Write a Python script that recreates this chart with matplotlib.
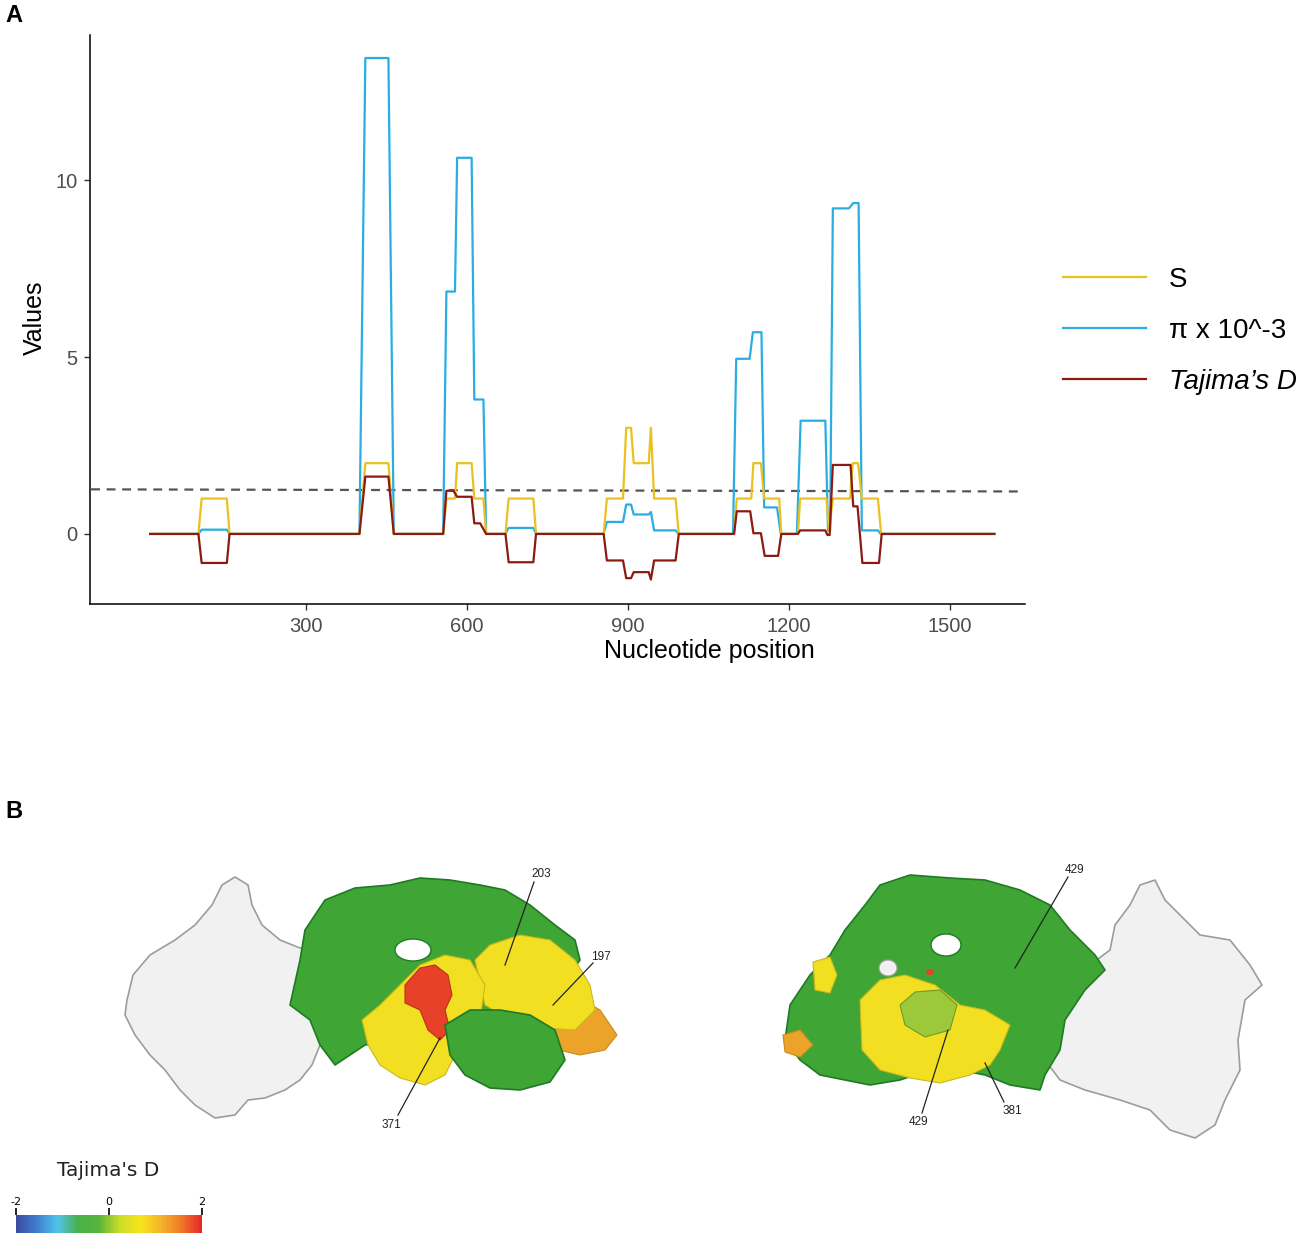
import numpy as np
import matplotlib.pyplot as plt
from matplotlib.patches import Polygon, Ellipse
from matplotlib.colors import LinearSegmentedColormap, Normalize
from matplotlib.colorbar import ColorbarBase

plt.rcParams['font.family'] = ['Liberation Sans', 'DejaVu Sans']

# ---- panel A data: sliding window vertices ----
s_pos = [10, 100, 106, 153, 158, 400, 411, 454, 464, 556, 562, 578, 582, 609, 614, 631, 636,
         672, 678, 724, 729, 855, 861, 891, 897, 906, 911, 939, 943, 949, 989, 995,
         1098, 1103, 1130, 1134, 1148, 1154, 1182, 1186, 1217, 1221, 1270, 1275, 1282,
         1314, 1319, 1329, 1336, 1366, 1372, 1583]
s_val = [0, 0, 1, 1, 0, 0, 2, 2, 0, 0, 1, 1, 2, 2, 1, 1, 0,
         0, 1, 1, 0, 0, 1, 1, 3, 3, 2, 2, 3, 1, 1, 0,
         0, 1, 1, 2, 2, 1, 1, 0, 0, 1, 1, 0.1, 1,
         1, 2, 2, 1, 1, 0, 0]

pi_pos = [10, 100, 106, 153, 158, 400, 411, 454, 464, 556, 562, 578, 582, 609, 614, 631, 636,
          672, 678, 724, 729, 855, 861, 891, 897, 906, 911, 939, 943, 949, 989, 995,
          1096, 1102, 1127, 1133, 1149, 1154, 1178, 1185, 1215, 1222, 1268, 1273, 1277, 1282,
          1312, 1320, 1330, 1336, 1366, 1371, 1583]
pi_val = [0, 0, 0.12, 0.12, 0, 0, 13.45, 13.45, 0, 0, 6.85, 6.85, 10.63, 10.63, 3.8, 3.8, 0,
          0, 0.17, 0.17, 0, 0, 0.34, 0.34, 0.83, 0.83, 0.55, 0.55, 0.62, 0.1, 0.1, 0,
          0, 4.95, 4.95, 5.7, 5.7, 0.75, 0.75, 0, 0, 3.2, 3.2, 0.1, 0.1, 9.2,
          9.2, 9.35, 9.35, 0.1, 0.1, 0, 0]

d_pos = [10, 100, 106, 153, 158, 400, 411, 454, 464, 556, 562, 575, 582, 609, 614, 625, 636,
         672, 678, 724, 729, 855, 861, 891, 897, 906, 911, 939, 943, 949, 989, 995,
         1098, 1103, 1128, 1134, 1148, 1155, 1180, 1186, 1217, 1221, 1268, 1272, 1276, 1282,
         1315, 1320, 1328, 1337, 1368, 1373, 1583]
d_val = [0, 0, -0.82, -0.82, 0, 0, 1.62, 1.62, 0, 0, 1.22, 1.22, 1.05, 1.05, 0.3, 0.3, 0,
         0, -0.8, -0.8, 0, 0, -0.75, -0.75, -1.25, -1.25, -1.08, -1.08, -1.29, -0.75, -0.75, 0,
         0, 0.64, 0.64, 0.02, 0.02, -0.62, -0.62, 0, 0, 0.1, 0.1, -0.03, -0.03, 1.95,
         1.95, 0.78, 0.78, -0.82, -0.82, 0, 0]

thr_pos = [-100, 1630]
thr_val = [1.26, 1.20]

x_ticks = [300, 600, 900, 1200, 1500]
y_ticks = [0, 5, 10]

W, H = 1299, 1235
fig = plt.figure(figsize=(W / 100, H / 100), dpi=100)

ax = fig.add_axes([90 / W, 1 - 604 / H, 935 / W, 569 / H])
ax.plot(s_pos, s_val, color='#EAC11E', lw=1.6, label='S', zorder=3)
ax.plot(pi_pos, pi_val, color='#2AAEE2', lw=1.6, label='π x 10^-3', zorder=2)
ax.plot(d_pos, d_val, color='#8B1A12', lw=1.6, label='Tajima’s D', zorder=4)
ax.plot(thr_pos, thr_val, color='#555555', lw=1.6, ls=(0, (4, 3)), zorder=1)

ax.set_xlim(-102, 1640)
ax.set_ylim(-1.98, 14.1)
ax.set_xticks(x_ticks)
ax.set_yticks(y_ticks)
ax.tick_params(labelsize=14.5, labelcolor='#4d4d4d', length=4, width=1, color='#333333', pad=5)
for side in ['top', 'right']:
    ax.spines[side].set_visible(False)
for side in ['left', 'bottom']:
    ax.spines[side].set_linewidth(1.1)
ax.set_xlabel('Nucleotide position', fontsize=18)
ax.set_ylabel('Values', fontsize=18)
ax.xaxis.set_label_coords((709 - 90) / 935, -(651 - 604) / 569)
ax.yaxis.set_label_coords(-(90 - 35) / 935, (604 - 318) / 569)
ax.xaxis.label.set_va('center')
ax.yaxis.label.set_va('center')

leg = fig.legend(loc='center left', bbox_to_anchor=(1063 / W, 1 - 331 / H), frameon=False,
                 fontsize=20, handlelength=3.0, handletextpad=0.8, labelspacing=0.9,
                 borderpad=0, borderaxespad=0)
leg.get_texts()[2].set_style('italic')

fig.text(5 / W, 1 - 15 / H, 'A', fontsize=17, fontweight='bold', va='center')
fig.text(5 / W, 1 - 812 / H, 'B', fontsize=17, fontweight='bold', va='center')

# ---- panel B: rough sketch of the two surface views ----
bx = fig.add_axes([0, 0, 1, 1])
bx.set_xlim(0, W)
bx.set_ylim(H, 0)
bx.axis('off')

white, white_edge = '#f1f1f1', '#9c9c9c'
green, green_edge = '#3fa535', '#1f7a24'
yellow, orange, red, lime = '#f2df22', '#eba32a', '#e8412a', '#9cc93a'


def blob(pts, fc, ec, lw=1.2):
    bx.add_patch(Polygon(pts, closed=True, fc=fc, ec=ec, lw=lw, joinstyle='round'))


white_left = [(127, 1000), (133, 975), (150, 955), (175, 940), (195, 925), (212, 905), (222, 885),
              (235, 877), (248, 885), (252, 905), (262, 925), (280, 940), (300, 948), (318, 950),
              (330, 962), (322, 985), (318, 1010), (322, 1040), (312, 1065), (300, 1080), (285, 1090),
              (265, 1098), (248, 1100), (235, 1115), (215, 1118), (195, 1105), (180, 1090),
              (165, 1070), (150, 1055), (135, 1035), (125, 1015)]
green_left = [(290, 1005), (300, 960), (305, 930), (325, 900), (355, 888), (390, 885), (420, 878),
              (450, 880), (480, 885), (505, 890), (530, 905), (555, 925), (575, 940), (580, 960),
              (560, 990), (555, 1020), (560, 1060), (545, 1080), (520, 1088), (490, 1085),
              (470, 1075), (455, 1060), (430, 1045), (400, 1040), (365, 1045), (335, 1065),
              (320, 1045), (310, 1020)]
orange_left = [(540, 1000), (575, 995), (600, 1010), (617, 1035), (605, 1050), (580, 1055), (550, 1048)]
yellow_left_r = [(475, 960), (490, 945), (520, 935), (550, 940), (575, 960), (590, 985), (595, 1010),
                 (575, 1030), (545, 1028), (510, 1020), (485, 1005)]
yellow_left_c = [(362, 1020), (380, 1005), (400, 985), (420, 965), (445, 955), (470, 960), (485, 985),
                 (480, 1020), (460, 1045), (445, 1075), (425, 1085), (400, 1078), (380, 1065), (368, 1045)]
red_left = [(405, 985), (420, 968), (435, 965), (448, 975), (452, 995), (445, 1010), (450, 1030),
            (440, 1040), (428, 1030), (420, 1010), (405, 1003)]
green_left_f = [(445, 1025), (470, 1010), (500, 1010), (530, 1015), (555, 1030), (565, 1060),
                (550, 1082), (520, 1090), (490, 1088), (465, 1075), (450, 1055)]

blob(white_left, white, white_edge)
blob(green_left, green, green_edge)
blob(orange_left, orange, '#c98a20', 0.8)
blob(yellow_left_r, yellow, '#c9b81e', 0.8)
blob(yellow_left_c, yellow, '#c9b81e', 0.8)
blob(red_left, red, '#b83020', 0.8)
blob(green_left_f, green, green_edge)
bx.add_patch(Ellipse((413, 950), 36, 22, fc='white', ec=green_edge, lw=1))

white_right = [(1040, 1000), (1060, 975), (1090, 965), (1110, 950), (1115, 925), (1130, 905),
               (1140, 885), (1155, 880), (1165, 900), (1185, 920), (1200, 935), (1230, 940),
               (1250, 965), (1262, 985), (1245, 1000), (1238, 1040), (1240, 1070), (1225, 1100),
               (1215, 1125), (1195, 1138), (1170, 1130), (1150, 1110), (1120, 1100), (1085, 1090),
               (1060, 1080), (1045, 1060), (1035, 1035)]
green_right = [(785, 1040), (790, 1005), (810, 975), (830, 955), (845, 930), (865, 905), (880, 885),
               (910, 875), (950, 878), (985, 880), (1020, 890), (1050, 905), (1070, 930),
               (1095, 955), (1105, 970), (1085, 990), (1065, 1020), (1060, 1050), (1045, 1075),
               (1040, 1090), (1010, 1085), (985, 1075), (960, 1070), (930, 1070), (900, 1080),
               (870, 1085), (845, 1080), (820, 1075), (800, 1060)]
orange_right = [(783, 1035), (800, 1030), (813, 1045), (800, 1057), (785, 1052)]
yellow_right_l = [(813, 962), (830, 957), (837, 975), (830, 993), (815, 990)]
yellow_right_c = [(860, 1000), (880, 980), (905, 975), (935, 985), (960, 1005), (985, 1010),
                  (1010, 1025), (1000, 1050), (990, 1065), (970, 1075), (940, 1083), (910, 1078),
                  (880, 1070), (862, 1050)]
lime_right = [(900, 1005), (915, 992), (940, 990), (957, 1005), (950, 1030), (925, 1037), (905, 1025)]

blob(white_right, white, white_edge)
blob(green_right, green, green_edge)
blob(orange_right, orange, '#c98a20', 0.8)
blob(yellow_right_l, yellow, '#c9b81e', 0.8)
blob(yellow_right_c, yellow, '#c9b81e', 0.8)
blob(lime_right, lime, '#6f9a2a', 0.8)
bx.add_patch(Ellipse((888, 968), 18, 16, fc=white, ec=white_edge, lw=0.8))
bx.add_patch(Ellipse((946, 945), 30, 22, fc='white', ec=green_edge, lw=1))
bx.add_patch(Ellipse((930, 972), 8, 6, fc=red, ec='none'))

# residue labels
residues = ['203', '197', '371', '429', '429', '381']
label_xy = [(541, 874), (601, 957), (391, 1125), (1075, 870), (919, 1122), (1012, 1111)]
line_from = [(534, 882), (593, 963), (398, 1115), (1068, 877), (922, 1113), (1004, 1102)]
line_to = [(505, 965), (553, 1005), (440, 1038), (1015, 968), (948, 1030), (985, 1063)]
for name, (lx, ly), (x0, y0), (x1, y1) in zip(residues, label_xy, line_from, line_to):
    bx.plot([x0, x1], [y0, y1], color='#222222', lw=0.9)
    bx.text(lx, ly, name, fontsize=8.5, ha='center', va='center', color='#222222')

# Tajima's D colour scale
cbar_colors = ['#3a4aa0', '#3f7fcf', '#4fc4ea', '#49b04a', '#58b53a', '#c8dc2a', '#f6e61c',
               '#f5b52a', '#ef7a28', '#e8252a']
cmap = LinearSegmentedColormap.from_list('tajima', cbar_colors)
cax = fig.add_axes([16 / W, 1 - 1233 / H, 186 / W, 18 / H])
cb = ColorbarBase(cax, cmap=cmap, norm=Normalize(-2, 2), orientation='horizontal',
                  ticklocation='top', ticks=[-2, 0, 2])
cb.outline.set_visible(False)
cax.tick_params(labelsize=8, length=5, width=1.2, pad=1)
cax.set_xticklabels(['-2', '0', '2'], family='DejaVu Sans')
fig.text(108 / W, 1 - 1171 / H, "Tajima's D", fontsize=14.5, family='DejaVu Sans',
         ha='center', va='center', color='#222222')

fig.savefig('out.png', dpi=100)
